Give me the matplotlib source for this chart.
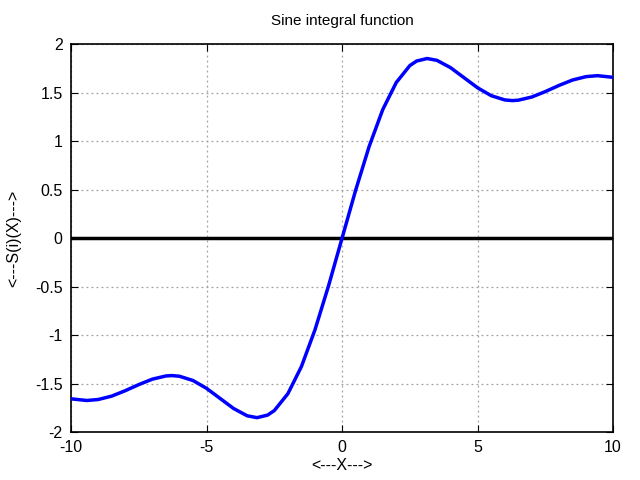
import matplotlib
matplotlib.use("Agg")
import matplotlib.pyplot as plt

plt.rcParams['font.family'] = ['Liberation Sans', 'DejaVu Sans']

# values
x = [-10, -9.42, -9, -8.5, -8, -7.5, -7, -6.5, -6.28, -6, -5.5, -5, -4.5, -4, -3.5, -3.14,
     -2.75, -2.5, -2, -1.5, -1, -0.5, 0, 0.5, 1, 1.5, 2, 2.5, 2.75, 3.14, 3.5, 4, 4.5, 5,
     5.5, 6, 6.28, 6.5, 7, 7.5, 8, 8.5, 9, 9.42, 10]
si = [-1.658, -1.675, -1.665, -1.630, -1.574, -1.511, -1.455, -1.422, -1.418, -1.425, -1.469,
      -1.550, -1.654, -1.758, -1.833, -1.852, -1.826, -1.779, -1.605, -1.325, -0.946, -0.493,
      0.0, 0.493, 0.946, 1.325, 1.605, 1.779, 1.826, 1.852, 1.833, 1.758, 1.654, 1.550,
      1.469, 1.425, 1.418, 1.422, 1.455, 1.511, 1.574, 1.630, 1.665, 1.675, 1.658]

xticks = [-10, -5, 0, 5, 10]
yticks = [-2, -1.5, -1, -0.5, 0, 0.5, 1, 1.5, 2]

fig = plt.figure(figsize=(6.4, 4.8), dpi=100)
ax = fig.add_axes([0.111, 0.1, 0.847, 0.808])

ax.axhline(0, color='black', lw=2.5, zorder=2)
ax.plot(x, si, color='#0000ff', lw=2.5, zorder=3, solid_joinstyle='round')

ax.set_xlim(-10, 10)
ax.set_ylim(-2, 2)
ax.set_xticks(xticks)
ax.set_xticklabels([str(t) for t in xticks])
ax.set_yticks(yticks)
ax.set_yticklabels(['%g' % t for t in yticks])
ax.grid(True, color='#a0a0a0', linestyle=(0, (1.5, 2.5)), lw=0.9)
ax.tick_params(direction='in', top=True, right=True, length=5, labelsize=11.5, pad=6)
for s in ax.spines.values():
    s.set_linewidth(1.2)

ax.set_title('Sine integral function', fontsize=11, pad=14)
ax.set_xlabel('<---X--->', fontsize=11.5, labelpad=2)
ax.set_ylabel('<---S(i)(X)--->', fontsize=11.5, labelpad=10)

fig.savefig('out.png', dpi=100)
